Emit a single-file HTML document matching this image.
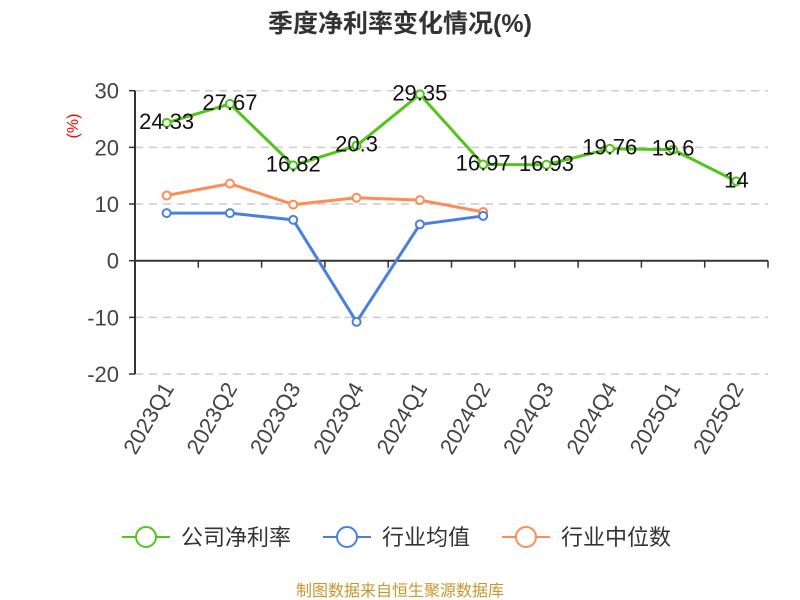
<!DOCTYPE html>
<html><head><meta charset="utf-8"><style>
body{margin:0;background:#fff;}
svg{display:block;font-family:"Liberation Sans","Noto Sans CJK SC",sans-serif;}
</style></head><body>
<svg id="chart" width="800" height="600">
<text x="400" y="32" text-anchor="middle" font-size="25" font-weight="bold" fill="#333">季度净利率变化情况(%)</text>
<text transform="translate(78,126) rotate(-90)" text-anchor="middle" font-size="16" fill="#f00">(%)</text>
<g id="grid"></g><g id="axes"></g><g id="series"></g><g id="labels"></g>
<g font-size="22" fill="#333">
<g><line x1="122" y1="537" x2="170" y2="537" stroke="#52c41a" stroke-width="2"/><circle cx="146" cy="537" r="10" fill="#fff" stroke="#52c41a" stroke-width="2"/><text x="181" y="545">公司净利率</text></g>
<g><line x1="323" y1="537" x2="371" y2="537" stroke="#4a7fe0" stroke-width="2"/><circle cx="347" cy="537" r="10" fill="#fff" stroke="#4a7fe0" stroke-width="2"/><text x="382" y="545">行业均值</text></g>
<g><line x1="502" y1="537" x2="550" y2="537" stroke="#ff8c55" stroke-width="2"/><circle cx="526" cy="537" r="10" fill="#fff" stroke="#ff8c55" stroke-width="2"/><text x="561" y="545">行业中位数</text></g>
</g>
<text x="400" y="596" text-anchor="middle" font-size="16" fill="#c8962e">制图数据来自恒生聚源数据库</text>
</svg>
<script>
const categories=["2023Q1","2023Q2","2023Q3","2023Q4","2024Q1","2024Q2","2024Q3","2024Q4","2025Q1","2025Q2"];
const netMargin=[24.33,27.67,16.82,20.3,29.35,16.97,16.93,19.76,19.6,14];
const industryMean=[8.4,8.4,7.2,-10.8,6.4,7.9];
const industryMedian=[11.5,13.6,9.9,11.1,10.7,8.6];
const yTicks=[30,20,10,0,-10,-20];
const NS="http://www.w3.org/2000/svg";
const X0=135,X1=768,Y30=90.7,Y0=260.7;
const bw=(X1-X0)/categories.length;
function x(i){return X0+bw*(i+0.5);}
function y(v){return Y0-(v)*(Y0-Y30)/30;}
function mk(p,t,a){const e=document.createElementNS(NS,t);for(const k in a)e.setAttribute(k,a[k]);p.appendChild(e);return e;}
const grid=document.getElementById('grid'),axes=document.getElementById('axes'),ser=document.getElementById('series'),lab=document.getElementById('labels');
yTicks.forEach(v=>{
 if(v!==0){const l=mk(grid,'line',{x1:X0,x2:X1,y1:y(v),y2:y(v),stroke:'#ccc','stroke-dasharray':'8,6','stroke-width':1.5});
 
 }
 const t=mk(axes,'text',{x:X0-16,y:y(v)+8,'text-anchor':'end','font-size':22,fill:'#444'});t.textContent=v;
 
 
 const tk=mk(axes,'line',{x1:X0-6,x2:X0,y1:y(v),y2:y(v),stroke:'#333','stroke-width':1.5});
 
 
});
const ya=mk(axes,'line',{x1:X0,x2:X0,y1:y(30),y2:y(-20),stroke:'#333','stroke-width':2});


const xa=mk(axes,'line',{x1:X0,x2:X1,y1:Y0,y2:Y0,stroke:'#333','stroke-width':2});


const LY=y(-20)+14;
categories.forEach((c,i)=>{
 const tk=mk(axes,'line',{x1:X0+bw*(i+1),x2:X0+bw*(i+1),y1:Y0,y2:Y0+7,stroke:'#333','stroke-width':1.5});
 
 
 const t=mk(axes,'text',{transform:`translate(${x(i)+8},${LY}) rotate(-60)`,'text-anchor':'end','font-size':22,fill:'#444'});t.textContent=c;
 
 
});
function series(vals,color,name,labels){
 const pl=mk(ser,'polyline',{points:vals.map((v,i)=>x(i)+','+y(v)).join(' '),fill:'none',stroke:color,'stroke-width':3,'stroke-linejoin':'round'});
 
 
 vals.forEach((v,i)=>{
  const c=mk(ser,'circle',{cx:x(i),cy:y(v),r:4,fill:'#fff',stroke:color,'stroke-width':2});
  
  
  if(labels){const t=mk(lab,'text',{x:x(i),y:y(v)+6,'text-anchor':'middle','font-size':22,fill:'#111'});t.textContent=v;
  
  }
 });
}
series(industryMedian,'#ff8c55','industry-median',false);
series(industryMean,'#4a7fe0','industry-mean',false);
series(netMargin,'#52c41a','net-margin',true);
</script>
</body></html>
